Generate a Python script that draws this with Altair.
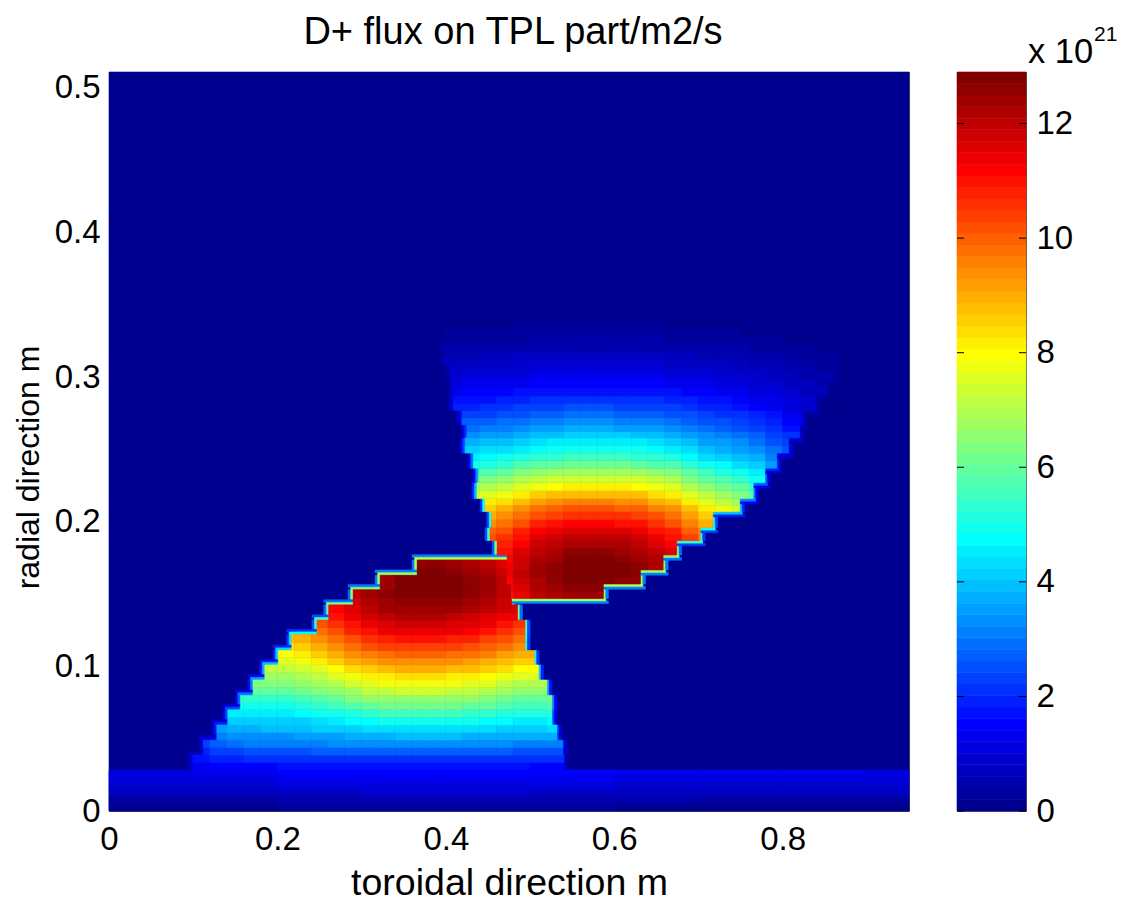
import math
import altair as alt
import pandas as pd

FONT = "Liberation Sans"
X_MAX = 0.95
Y_MAX = 0.511
V_MAX = 12.9
STEP = 0.02

X_TICKS = [0, 0.2, 0.4, 0.6, 0.8]
Y_TICKS = [0, 0.1, 0.2, 0.3, 0.4, 0.5]
BAR_TICKS = [0, 2, 4, 6, 8, 10, 12]

# lobe below the waist: row edges, left/right limit of each row,
# two lists per row (lower half, upper half), values from the first column touched
low_edges = [.0284, .0387, .049, .0595, .07, .08, .0906, .101, .111, .122, .132, .1425, .153, .163, .1736]
low_left = [.098, .112, .128, .141, .156, .171, .185, .201, .217, .247, .261, .29, .322, .366]
low_right = [.54, .539, .532, .526, .526, .52, .51, .505, .494, .494, .485, .478, .48, .48]
low_values = [
    [1.1, 1.3, 1.45, 1.55, 1.6, 1.6, 1.65, 1.65, 1.65, 1.65, 1.7, 1.7, 1.7, 1.7, 1.7, 1.7, 1.7, 1.7, 1.7, 1.65, 1.65, 1.6, 1.6],
    [1.4, 1.65, 1.85, 2.0, 2.05, 2.1, 2.1, 2.15, 2.15, 2.15, 2.2, 2.2, 2.2, 2.2, 2.2, 2.2, 2.2, 2.2, 2.2, 2.15, 2.15, 2.1, 2.1],
    [2.0, 2.3, 2.4, 2.5, 2.55, 2.6, 2.6, 2.65, 2.65, 2.65, 2.7, 2.7, 2.7, 2.7, 2.7, 2.7, 2.7, 2.7, 2.65, 2.6, 2.6, 2.55],
    [2.4, 2.75, 2.9, 3.05, 3.1, 3.15, 3.2, 3.2, 3.25, 3.25, 3.3, 3.3, 3.3, 3.3, 3.3, 3.3, 3.3, 3.3, 3.25, 3.2, 3.15, 3.1],
    [3.1, 3.3, 3.35, 3.4, 3.4, 3.45, 3.55, 3.6, 3.7, 3.8, 3.8, 3.85, 3.85, 3.85, 3.85, 3.8, 3.8, 3.7, 3.65, 3.65, 3.7],
    [3.5, 3.75, 3.8, 3.9, 3.9, 4.0, 4.05, 4.15, 4.2, 4.3, 4.35, 4.4, 4.4, 4.4, 4.4, 4.35, 4.3, 4.2, 4.2, 4.2, 4.25],
    [4.05, 4.05, 4.05, 4.05, 4.2, 4.35, 4.5, 4.7, 4.8, 4.9, 4.95, 4.95, 4.95, 4.9, 4.85, 4.75, 4.65, 4.55, 4.6, 4.7],
    [4.5, 4.5, 4.5, 4.5, 4.7, 4.85, 5.0, 5.2, 5.35, 5.45, 5.5, 5.5, 5.5, 5.45, 5.4, 5.3, 5.15, 5.05, 5.1, 5.2],
    [4.9, 4.9, 4.9, 4.9, 5.05, 5.25, 5.5, 5.75, 5.9, 6.05, 6.1, 6.1, 6.1, 6.05, 6.0, 5.85, 5.65, 5.5, 5.5, 5.65],
    [5.3, 5.3, 5.3, 5.3, 5.5, 5.7, 6.0, 6.25, 6.45, 6.6, 6.65, 6.65, 6.65, 6.6, 6.5, 6.4, 6.2, 6.0, 6.0, 6.2],
    [5.85, 5.85, 5.85, 6.05, 6.3, 6.55, 6.85, 7.1, 7.2, 7.3, 7.3, 7.3, 7.2, 7.15, 7.0, 6.8, 6.55, 6.55],
    [6.25, 6.25, 6.25, 6.45, 6.7, 7.0, 7.35, 7.55, 7.7, 7.8, 7.8, 7.8, 7.7, 7.65, 7.5, 7.25, 7.0, 7.0],
    [6.7, 6.7, 6.95, 7.2, 7.5, 7.85, 8.1, 8.25, 8.35, 8.35, 8.35, 8.25, 8.2, 8.0, 7.75, 7.5, 7.5],
    [7.1, 7.1, 7.4, 7.65, 8.0, 8.35, 8.65, 8.8, 8.9, 8.9, 8.9, 8.8, 8.7, 8.55, 8.3, 8.0, 8.0],
    [7.55, 7.85, 8.15, 8.5, 8.9, 9.15, 9.35, 9.45, 9.45, 9.45, 9.35, 9.25, 9.05, 8.8, 8.5, 8.5],
    [7.95, 8.25, 8.55, 8.95, 9.35, 9.65, 9.85, 9.95, 9.95, 9.95, 9.85, 9.75, 9.55, 9.25, 8.95, 8.95],
    [8.35, 8.65, 9.0, 9.4, 9.8, 10.15, 10.35, 10.45, 10.45, 10.45, 10.35, 10.25, 10.05, 9.7, 9.4],
    [8.7, 9.05, 9.35, 9.8, 10.25, 10.55, 10.8, 10.9, 10.9, 10.9, 10.8, 10.7, 10.45, 10.15, 9.8],
    [9.8, 10.25, 10.7, 11.05, 11.3, 11.4, 11.4, 11.4, 11.3, 11.2, 10.95, 10.6, 10.25],
    [10.1, 10.6, 11.05, 11.4, 11.65, 11.75, 11.75, 11.75, 11.65, 11.5, 11.3, 10.95, 10.6],
    [10.9, 11.4, 11.75, 12.0, 12.1, 12.1, 12.1, 12.0, 11.85, 11.6, 11.45, 11.3],
    [11.15, 11.65, 12.05, 12.3, 12.4, 12.4, 12.4, 12.3, 12.15, 11.9, 11.75, 11.55],
    [11.85, 12.2, 12.45, 12.6, 12.6, 12.6, 12.5, 12.35, 12.1, 11.7],
    [12.0, 12.4, 12.65, 12.8, 12.8, 12.8, 12.7, 12.55, 12.3, 11.9],
    [12.45, 12.9, 12.9, 12.9, 12.75, 12.65, 12.3, 12.0],
    [12.45, 12.85, 12.85, 12.85, 12.7, 12.6, 12.3, 11.95],
    [12.7, 12.7, 12.6, 12.4, 12.15, 11.8],
    [12.5, 12.5, 12.4, 12.2, 12.0, 11.6],
]

# lobe above the waist
up_edges = [.147, .157, .1667, .177, .187, .196, .207, .216, .227, .237, .2475, .258, .267, .277, .287, .298, .308, .318, .328, .338]
up_left = [.478, .4727, .4727, .461, .4525, .4545, .4466, .437, .4385, .4325, .4228, .4248, .419, .409, .408, .406, .397, .395, .397]
up_right = [.587, .631, .658, .674, .702, .717, .749, .765, .779, .793, .807, .82, .824, .84, .853, .864, .866, .866, .75]
up_values = [
    [10.9, 11.4, 11.9, 12.2, 12.4, 12.4, 12.4],
    [11.1, 11.6, 12.1, 12.3, 12.6, 12.6, 12.6],
    [11.2, 11.7, 12.2, 12.5, 12.75, 12.8, 12.8, 12.6, 12.5],
    [11.4, 11.9, 12.4, 12.6, 12.85, 12.9, 12.85, 12.7, 12.5],
    [11.3, 11.8, 12.3, 12.6, 12.8, 12.9, 12.8, 12.7, 12.5, 12.2],
    [11.2, 11.7, 12.2, 12.4, 12.7, 12.7, 12.7, 12.5, 12.4, 12.1],
    [11.0, 11.5, 12.0, 12.2, 12.5, 12.5, 12.5, 12.4, 12.2, 11.9, 11.5],
    [10.7, 11.2, 11.7, 12.0, 12.2, 12.2, 12.2, 12.1, 12.0, 11.6, 11.2],
    [10.2, 10.6, 11.0, 11.5, 11.8, 12, 12, 12, 11.9, 11.8, 11.4, 11.0, 10.3, 9.6],
    [9.9, 10.2, 10.7, 11.1, 11.4, 11.6, 11.6, 11.6, 11.5, 11.4, 11.0, 10.7, 10.0, 9.3],
    [9.4, 9.8, 10.2, 10.7, 10.9, 11.1, 11.1, 11.1, 11.0, 10.9, 10.5, 10.2, 9.5, 8.9],
    [9.0, 9.3, 9.8, 10.2, 10.4, 10.6, 10.6, 10.6, 10.5, 10.4, 10.1, 9.8, 9.1, 8.5],
    [8.6, 8.9, 9.3, 9.7, 9.9, 10.1, 10.1, 10.1, 10.0, 9.9, 9.6, 9.3, 8.7, 8.1, 7.7, 7.3],
    [8.1, 8.4, 8.7, 9.1, 9.3, 9.5, 9.5, 9.5, 9.4, 9.3, 9.0, 8.7, 8.2, 7.6, 7.2, 6.8],
    [7.3, 7.5, 7.8, 8.1, 8.5, 8.7, 8.85, 8.85, 8.85, 8.8, 8.7, 8.4, 8.1, 7.6, 7.1, 6.7, 6.4, 5.8],
    [6.7, 6.9, 7.2, 7.5, 7.8, 8.0, 8.15, 8.15, 8.15, 8.1, 8.0, 7.7, 7.5, 7.0, 6.5, 6.2, 5.9, 5.4],
    [6.1, 6.3, 6.6, 6.9, 7.2, 7.3, 7.45, 7.45, 7.45, 7.4, 7.3, 7.1, 6.9, 6.4, 6.0, 5.7, 5.4, 4.9],
    [5.6, 5.8, 6.0, 6.3, 6.6, 6.7, 6.85, 6.85, 6.85, 6.8, 6.7, 6.5, 6.3, 5.9, 5.5, 5.2, 4.9, 4.5],
    [5.0, 5.2, 5.4, 5.7, 5.9, 6.0, 6.15, 6.15, 6.15, 6.1, 6.0, 5.8, 5.7, 5.3, 4.9, 4.7, 4.4, 4.1, 3.6],
    [4.6, 4.7, 4.9, 5.1, 5.3, 5.4, 5.55, 5.55, 5.55, 5.5, 5.4, 5.3, 5.1, 4.8, 4.4, 4.2, 4.0, 3.7, 3.2],
    [4.1, 4.25, 4.4, 4.6, 4.8, 4.9, 5, 5, 5, 4.95, 4.9, 4.75, 4.6, 4.3, 4.0, 3.8, 3.6, 3.3, 2.9, 2.5],
    [3.7, 3.9, 4.0, 4.2, 4.4, 4.5, 4.55, 4.55, 4.55, 4.5, 4.45, 4.3, 4.2, 3.9, 3.6, 3.5, 3.3, 3.0, 2.6, 2.3],
    [3.4, 3.5, 3.6, 3.8, 3.9, 4.0, 4.1, 4.1, 4.1, 4.05, 4.0, 3.9, 3.8, 3.5, 3.3, 3.1, 3.0, 2.7, 2.4, 2.05],
    [3.0, 3.1, 3.2, 3.4, 3.5, 3.6, 3.65, 3.65, 3.65, 3.6, 3.6, 3.5, 3.4, 3.1, 2.9, 2.8, 2.6, 2.4, 2.1, 1.8],
    [2.5, 2.7, 2.8, 2.9, 3.0, 3.1, 3.2, 3.25, 3.25, 3.25, 3.2, 3.2, 3.1, 3.0, 2.8, 2.6, 2.5, 2.3, 2.1, 1.9, 1.6, 1.4],
    [2.2, 2.3, 2.4, 2.5, 2.6, 2.7, 2.8, 2.85, 2.85, 2.85, 2.8, 2.8, 2.7, 2.6, 2.45, 2.3, 2.2, 2.05, 1.9, 1.65, 1.4, 1.2],
    [1.9, 2.0, 2.1, 2.15, 2.25, 2.35, 2.4, 2.45, 2.45, 2.45, 2.4, 2.4, 2.3, 2.25, 2.1, 1.95, 1.85, 1.75, 1.6, 1.4, 1.2, 1.0],
    [1.65, 1.75, 1.8, 1.9, 2.0, 2.05, 2.1, 2.15, 2.15, 2.15, 2.1, 2.1, 2.05, 2.0, 1.85, 1.7, 1.65, 1.55, 1.4, 1.25, 1.1, .9],
    [1.4, 1.5, 1.5, 1.6, 1.65, 1.7, 1.75, 1.8, 1.8, 1.8, 1.8, 1.75, 1.7, 1.65, 1.55, 1.45, 1.35, 1.3, 1.2, 1.05, .9, .75, .65],
    [1.2, 1.3, 1.3, 1.35, 1.4, 1.5, 1.5, 1.55, 1.55, 1.55, 1.5, 1.5, 1.5, 1.4, 1.35, 1.25, 1.2, 1.1, 1.0, .9, .8, .65, .55],
    [1.0, 1.05, 1.1, 1.15, 1.2, 1.25, 1.3, 1.3, 1.3, 1.3, 1.3, 1.3, 1.25, 1.2, 1.1, 1.05, 1.0, .95, .85, .75, .65, .55, .45, .4],
    [.85, .9, .95, .95, 1.0, 1.05, 1.1, 1.1, 1.1, 1.1, 1.1, 1.1, 1.05, 1.0, .95, .9, .85, .8, .75, .65, .55, .45, .4, .35],
    [.7, .7, .75, .75, .8, .85, .85, .9, .9, .9, .9, .9, .9, .85, .8, .75, .7, .7, .65, .6, .5, .45, .4, .3, .3],
    [.55, .6, .6, .65, .65, .7, .7, .75, .75, .75, .75, .75, .75, .7, .7, .65, .6, .55, .55, .5, .45, .4, .3, .3, .25],
    [.45, .45, .5, .5, .55, .55, .6, .6, .6, .6, .6, .6, .6, .55, .55, .5, .5, .45, .45, .4, .35, .3, .25, .2, .2],
    [.35, .35, .4, .4, .4, .4, .45, .45, .45, .45, .45, .45, .45, .45, .4, .4, .35, .35, .3, .3, .25, .2, .2, .15, .15],
    [.25, .25, .3, .3, .3, .3, .35, .35, .35, .35, .35, .35, .35, .35, .3, .3, .3, .25, .25],
    [.2, .2, .2, .2, .2, .25, .25, .25, .25, .25, .25, .25, .25, .25, .2, .2, .2, .2, .2],
]

# strip along the bottom edge, coarse columns across the whole width
strip_edges = [0, .005, .01, .015, .02, .0245, .0284]
strip_columns = [0, .1, .2, .3, .4, .5, .6, .7, .8, .9, .95]
strip_values = [
    [.2, .2, .25, .25, .25, .25, .2, .2, .2, .2],
    [.4, .4, .45, .5, .5, .45, .45, .4, .4, .4],
    [.65, .7, .8, .85, .85, .8, .75, .7, .7, .65],
    [.85, .95, 1.05, 1.1, 1.1, 1.05, 1.0, .95, .9, .85],
    [1.05, 1.15, 1.3, 1.35, 1.35, 1.3, 1.2, 1.15, 1.1, 1.05],
    [1.2, 1.3, 1.5, 1.6, 1.6, 1.5, 1.4, 1.3, 1.25, 1.2],
]


def jet(n):
    out = []
    for i in range(n):
        t = (i + 1) / n
        r = max(0.0, min(1.0, min(4 * t - 1.5, -4 * t + 4.5)))
        g = max(0.0, min(1.0, min(4 * t - 0.5, -4 * t + 3.5)))
        b = max(0.0, min(1.0, min(4 * t + 0.5, -4 * t + 2.5)))
        out.append("#%02x%02x%02x" % (round(r * 255), round(g * 255), round(b * 255)))
    return out


JET = jet(64)
cells = [dict(x0=0, x1=X_MAX, y0=0, y1=Y_MAX, v=0)]
FX = 0.003    # width of one halo step along x
FY = 0.0018   # height of one halo step along y


def halo(x0, x1, y0, y1, v):
    cells.append(dict(x0=x0, x1=x1, y0=y0, y1=y1, v=v))


# soft edge where the field drops to zero
for edges, lefts, rights, table in ((low_edges, low_left, low_right, low_values),
                                    (up_edges, up_left, up_right, up_values)):
    for r in range(len(lefts)):
        first = table[2 * r][0]
        last = table[2 * r][-1]
        y0, y1 = edges[r], edges[r + 1]
        halo(lefts[r] - 2 * FX, lefts[r] - FX, y0, y1, first * .25)
        halo(lefts[r] - FX, lefts[r], y0, y1, first * .55)
        halo(rights[r], rights[r] + FX, y0, y1, last * .55)
        halo(rights[r] + FX, rights[r] + 2 * FX, y0, y1, last * .25)
for r in range(len(low_left)):
    x1 = low_left[r + 1] if r + 1 < len(low_left) else low_right[r]
    v = low_values[2 * r + 1][0]
    y = low_edges[r + 1]
    halo(low_left[r] - 2 * FX, x1, y + FY, y + 2 * FY, v * .25)
    halo(low_left[r] - FX, x1, y, y + FY, v * .55)
for r in range(len(up_right)):
    x0 = up_right[r - 1] if r > 0 else up_left[0]
    v = up_values[2 * r][-1]
    y = up_edges[r]
    halo(x0, up_right[r] + 2 * FX, y - 2 * FY, y - FY, v * .25)
    halo(x0, up_right[r] + FX, y - FY, y, v * .55)

for edges, lefts, rights, table in ((low_edges, low_left, low_right, low_values),
                                    (up_edges, up_left, up_right, up_values)):
    for r in range(len(lefts)):
        first = math.floor(lefts[r] / STEP)
        mid = (edges[r] + edges[r + 1]) / 2
        for half, (y0, y1) in enumerate(((edges[r], mid), (mid, edges[r + 1]))):
            for k, v in enumerate(table[2 * r + half]):
                a = max((first + k) * STEP, lefts[r])
                b = min((first + k + 1) * STEP, rights[r])
                if b > a:
                    cells.append(dict(x0=a, x1=b, y0=y0, y1=y1, v=v))
for r, vals in enumerate(strip_values):
    for k, v in enumerate(vals):
        cells.append(dict(x0=strip_columns[k], x1=strip_columns[k + 1],
                          y0=strip_edges[r], y1=strip_edges[r + 1], v=v))

color_scale = alt.Scale(type="quantize", domain=[0, V_MAX], range=JET)
axis_common = dict(labelFont=FONT, labelFontSize=33, titleFont=FONT,
                   titleFontWeight="normal", labelColor="#000", titleColor="#000",
                   tickSize=0, grid=False, domain=False, labelFlush=False, labelOverlap=False)

heat = alt.Chart(pd.DataFrame(cells)).mark_rect(strokeWidth=0.6).encode(
    x=alt.X("x0:Q", scale=alt.Scale(domain=[0, X_MAX], nice=False, zero=False),
            axis=alt.Axis(values=X_TICKS, format="~g", title="toroidal direction m", titleFontSize=37.5,
                          labelPadding=12, titlePadding=8, **axis_common)),
    x2="x1:Q",
    y=alt.Y("y0:Q", scale=alt.Scale(domain=[0, Y_MAX], nice=False, zero=False),
            axis=alt.Axis(values=Y_TICKS, format="~g", title="radial direction m", titleFontSize=32,
                          titleY=395, labelPadding=9, titlePadding=9, **axis_common)),
    y2="y1:Q",
    color=alt.Color("v:Q", scale=color_scale, legend=None),
    stroke=alt.Stroke("v:Q", scale=color_scale, legend=None),
)
title_mark = alt.Chart(pd.DataFrame({"t": ["D+ flux on TPL part/m2/s"]})).mark_text(
    font=FONT, fontSize=38, color="#000", align="center", baseline="middle"
).encode(x=alt.value(404), y=alt.value(-39), text="t:N")
left_panel = alt.layer(heat, title_mark).properties(width=800, height=739)

levels = [dict(a=i * V_MAX / 64, b=(i + 1) * V_MAX / 64, m=(i + 0.5) * V_MAX / 64) for i in range(64)]
bar_y = alt.Scale(domain=[0, V_MAX], nice=False, zero=False)
bar = alt.Chart(pd.DataFrame(levels)).mark_rect(strokeWidth=0.6).encode(
    y=alt.Y("a:Q", scale=bar_y,
            axis=alt.Axis(values=BAR_TICKS, format="~g", orient="right", title=None, labelPadding=10, **axis_common)),
    y2="b:Q",
    x=alt.value(0), x2=alt.value(69),
    color=alt.Color("m:Q", scale=color_scale, legend=None),
    stroke=alt.Stroke("m:Q", scale=color_scale, legend=None),
)
tick_df = pd.DataFrame({"y": BAR_TICKS})
tick_l = alt.Chart(tick_df).mark_rule(color="#000", strokeWidth=1).encode(
    y=alt.Y("y:Q", scale=bar_y), x=alt.value(0), x2=alt.value(7))
tick_r = alt.Chart(tick_df).mark_rule(color="#000", strokeWidth=1).encode(
    y=alt.Y("y:Q", scale=bar_y), x=alt.value(62), x2=alt.value(69))
x10 = alt.Chart(pd.DataFrame({"t": ["x 10"]})).mark_text(
    font=FONT, fontSize=34.5, color="#000", align="left", baseline="alphabetic"
).encode(x=alt.value(71), y=alt.value(-9), text="t:N")
exp = alt.Chart(pd.DataFrame({"t": ["21"]})).mark_text(
    font=FONT, fontSize=21, color="#000", align="left", baseline="alphabetic"
).encode(x=alt.value(137), y=alt.value(-31), text="t:N")
right_panel = alt.layer(bar, tick_l, tick_r, x10, exp).properties(width=69, height=739)

chart = alt.hconcat(left_panel, right_panel, spacing=48, bounds="flush").resolve_scale(
    color="independent", stroke="independent", y="independent", x="independent"
).configure_view(stroke="#555", strokeWidth=1).properties(
    padding={"left": 3, "right": 0, "top": 5, "bottom": 0}
)
chart.save("out.html", embed_options={"renderer": "svg", "actions": False})
